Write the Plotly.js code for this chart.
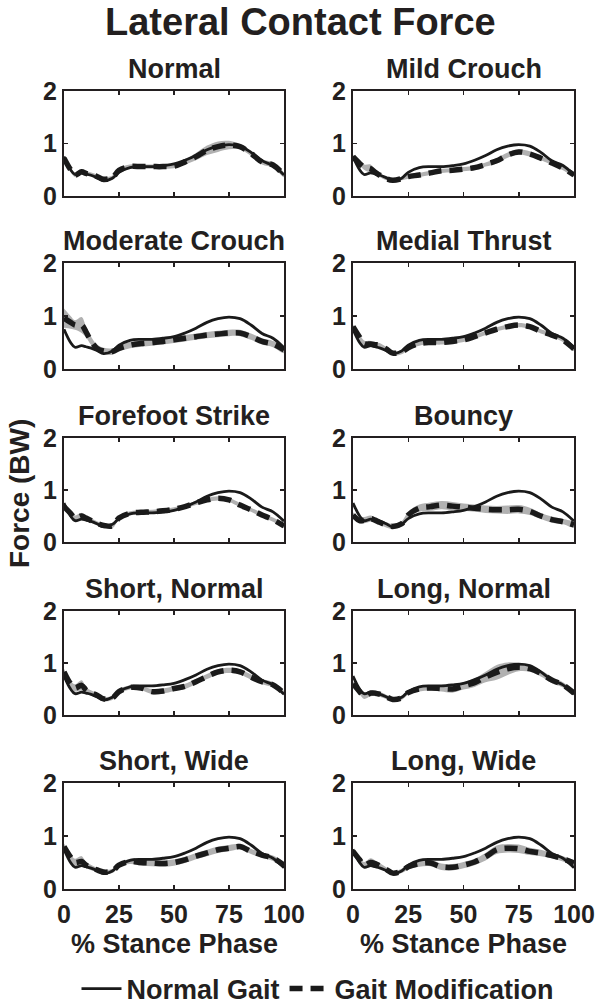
<!DOCTYPE html>
<html><head><meta charset="utf-8">
<script src="https://cdn.plot.ly/plotly-3.0.1.min.js"></script>
<style>html,body{margin:0;padding:0;background:#fff}#chart{width:600px;height:1008px}</style>
</head><body><div id="chart"></div>
<script>
// % stance phase sample points
const stance = [0,3,5,8,10,12,15,18,22,25,30,35,40,45,50,55,60,65,70,75,80,85,90,95,100];

const panelTitles = ["Normal","Mild Crouch","Moderate Crouch","Medial Thrust","Forefoot Strike","Bouncy","Short, Normal","Long, Normal","Short, Wide","Long, Wide"];

// Normal gait (baseline, solid line)
const normalGait = [0.75,0.50,0.41,0.44,0.42,0.40,0.35,0.29,0.34,0.45,0.54,0.56,0.56,0.58,0.61,0.68,0.77,0.88,0.95,0.98,0.95,0.83,0.67,0.58,0.40];

// Gait modification means
const modNormal    = [0.72,0.50,0.40,0.46,0.43,0.41,0.37,0.32,0.35,0.49,0.56,0.56,0.56,0.56,0.57,0.65,0.75,0.87,0.94,0.97,0.94,0.81,0.65,0.59,0.40];
const modMild      = [0.75,0.62,0.55,0.52,0.45,0.40,0.33,0.30,0.33,0.37,0.40,0.44,0.48,0.49,0.51,0.54,0.60,0.67,0.78,0.84,0.80,0.72,0.63,0.53,0.40];
const modModerate  = [0.96,0.88,0.83,0.83,0.70,0.55,0.39,0.34,0.33,0.39,0.45,0.48,0.50,0.52,0.55,0.58,0.61,0.64,0.66,0.68,0.68,0.61,0.52,0.47,0.36];
const modMedial    = [0.80,0.60,0.48,0.47,0.46,0.45,0.38,0.30,0.32,0.40,0.48,0.50,0.50,0.52,0.55,0.61,0.68,0.75,0.80,0.83,0.80,0.71,0.64,0.55,0.38];
const modForefoot  = [0.68,0.55,0.46,0.50,0.46,0.42,0.36,0.32,0.31,0.46,0.55,0.57,0.58,0.60,0.63,0.68,0.75,0.81,0.84,0.81,0.71,0.62,0.52,0.43,0.31];
const modBouncy    = [0.52,0.41,0.42,0.45,0.42,0.38,0.33,0.30,0.35,0.52,0.65,0.68,0.71,0.69,0.67,0.65,0.63,0.62,0.62,0.63,0.59,0.50,0.43,0.39,0.33];
const modShortNorm = [0.83,0.60,0.52,0.57,0.48,0.43,0.38,0.31,0.33,0.45,0.53,0.52,0.45,0.46,0.51,0.55,0.64,0.74,0.83,0.86,0.83,0.73,0.64,0.58,0.42];
const modLongNorm  = [0.60,0.45,0.36,0.42,0.42,0.40,0.35,0.30,0.33,0.43,0.50,0.52,0.51,0.50,0.56,0.62,0.73,0.82,0.89,0.92,0.89,0.80,0.67,0.58,0.42];
const modShortWide = [0.80,0.60,0.50,0.52,0.45,0.41,0.36,0.32,0.34,0.45,0.52,0.50,0.49,0.48,0.50,0.55,0.62,0.68,0.74,0.77,0.80,0.71,0.64,0.58,0.45];
const modLongWide  = [0.71,0.55,0.45,0.50,0.48,0.44,0.37,0.30,0.34,0.42,0.48,0.49,0.42,0.41,0.45,0.51,0.61,0.74,0.77,0.76,0.71,0.68,0.63,0.57,0.49];

// Gait modification standard deviations (grey band)
const sdNormal    = [0.04,0.04,0.04,0.05,0.04,0.04,0.04,0.04,0.04,0.04,0.04,0.04,0.04,0.04,0.04,0.05,0.07,0.09,0.10,0.08,0.05,0.05,0.05,0.05,0.04];
const sdMild      = [0.04,0.04,0.05,0.08,0.05,0.04,0.03,0.03,0.03,0.04,0.04,0.04,0.04,0.04,0.04,0.04,0.04,0.05,0.05,0.05,0.05,0.04,0.04,0.04,0.03];
const sdModerate  = [0.18,0.12,0.09,0.15,0.10,0.08,0.07,0.06,0.06,0.06,0.06,0.06,0.06,0.06,0.06,0.06,0.06,0.06,0.06,0.06,0.06,0.06,0.06,0.06,0.06];
const sdMedial    = [0.04,0.05,0.06,0.06,0.05,0.04,0.04,0.04,0.04,0.04,0.04,0.04,0.04,0.04,0.04,0.04,0.04,0.04,0.04,0.04,0.04,0.04,0.04,0.04,0.04];
const sdForefoot  = [0.04,0.04,0.05,0.06,0.05,0.04,0.04,0.04,0.04,0.04,0.04,0.04,0.04,0.04,0.04,0.04,0.04,0.04,0.04,0.04,0.04,0.04,0.04,0.04,0.04];
const sdBouncy    = [0.05,0.05,0.06,0.06,0.05,0.05,0.05,0.05,0.05,0.06,0.07,0.08,0.08,0.08,0.07,0.07,0.07,0.07,0.08,0.08,0.07,0.06,0.06,0.05,0.05];
const sdShortNorm = [0.06,0.06,0.07,0.10,0.06,0.05,0.04,0.04,0.04,0.04,0.04,0.04,0.05,0.05,0.05,0.05,0.05,0.05,0.05,0.05,0.05,0.05,0.05,0.05,0.04];
const sdLongNorm  = [0.05,0.05,0.05,0.06,0.05,0.05,0.04,0.04,0.04,0.04,0.05,0.05,0.06,0.07,0.07,0.08,0.10,0.14,0.12,0.08,0.06,0.06,0.06,0.05,0.04];
const sdShortWide = [0.06,0.06,0.07,0.10,0.06,0.05,0.04,0.04,0.04,0.04,0.05,0.06,0.06,0.06,0.06,0.06,0.06,0.06,0.06,0.06,0.05,0.05,0.05,0.05,0.04];
const sdLongWide  = [0.05,0.05,0.06,0.08,0.06,0.05,0.04,0.04,0.04,0.05,0.06,0.06,0.06,0.06,0.06,0.06,0.07,0.08,0.08,0.08,0.07,0.06,0.05,0.05,0.04];

const mods = [modNormal,modMild,modModerate,modMedial,modForefoot,modBouncy,modShortNorm,modLongNorm,modShortWide,modLongWide];
const sds  = [sdNormal,sdMild,sdModerate,sdMedial,sdForefoot,sdBouncy,sdShortNorm,sdLongNorm,sdShortWide,sdLongWide];

const xTicks = [0,25,50,75,100];
const yTicks = [0,1,2];

// layout geometry (pixels)
const W = 600, H = 1008;
const colPx = [[64,284],[353,574]];
const rowPx = [[91,196],[263,369],[438,542],[611,715],[783,889]];
const FONT = "Liberation Sans, Arial, sans-serif";
const INK = "#231f20";
const f = (size) => ({size: size, family: FONT, weight: "bold", color: INK});

const traces = [];
const layout = {
  width: W, height: H,
  margin: {l:0,r:0,t:0,b:0, autoexpand: false},
  paper_bgcolor: "#fff", plot_bgcolor: "#fff",
  font: f(24),
  showlegend: true,
  legend: {orientation: "h", x: 0.53, xanchor: "center", y: 1 - 989/H, yanchor: "middle",
           font: f(27), tracegroupgap: 0, itemwidth: 40},
  annotations: [],
};

layout.annotations.push({text: "Lateral Contact Force", xref: "paper", yref: "paper", x: 0.5, y: 1 - 22/H,
  xanchor: "center", yanchor: "middle", showarrow: false, font: f(38)});
layout.annotations.push({text: "Force (BW)", xref: "paper", yref: "paper", x: 19/W, y: 1 - 494/H, textangle: -90,
  xanchor: "center", yanchor: "middle", showarrow: false, font: f(28)});

for (let i = 0; i < 10; i++) {
  const r = Math.floor(i/2), c = i % 2;
  const n = i + 1;
  const xa = "x" + (n === 1 ? "" : n), ya = "y" + (n === 1 ? "" : n);
  const upper = mods[i].map((v,k) => v + sds[i][k]);
  const lower = mods[i].map((v,k) => v - sds[i][k]);
  traces.push({x: stance.concat(stance.slice().reverse()), y: upper.concat(lower.slice().reverse()),
    xaxis: xa, yaxis: ya, type: "scatter", mode: "lines", fill: "toself", fillcolor: "#b1b1b1",
    line: {width: 0, shape: "spline", color: "#b1b1b1"}, showlegend: false, hoverinfo: "skip"});
  traces.push({x: stance, y: normalGait, xaxis: xa, yaxis: ya, type: "scatter", mode: "lines",
    name: "Normal Gait", legendgroup: "n", showlegend: i === 0,
    line: {color: "#1a1a1a", width: 2.8, shape: "spline"}});
  traces.push({x: stance, y: mods[i], xaxis: xa, yaxis: ya, type: "scatter", mode: "lines",
    name: "Gait Modification", legendgroup: "m", showlegend: i === 0,
    line: {color: "#1a1a1a", width: 5.5, shape: "spline", dash: "13px,8px"}});

  const axBase = {showline: true, linecolor: INK, linewidth: 2, mirror: "ticks", ticks: "inside",
    ticklen: 4, tickwidth: 1.5, tickcolor: INK, showgrid: false, zeroline: false, fixedrange: true};
  layout["xaxis" + (n === 1 ? "" : n)] = Object.assign({}, axBase, {
    domain: [colPx[c][0]/W, colPx[c][1]/W], range: [0,100], tickvals: xTicks, anchor: ya,
    showticklabels: r === 4, tickfont: f(25), ticklabelstandoff: 2
  });
  layout["yaxis" + (n === 1 ? "" : n)] = Object.assign({}, axBase, {
    domain: [1 - rowPx[r][1]/H, 1 - rowPx[r][0]/H], range: [0,2], tickvals: yTicks, anchor: xa,
    tickfont: f(25)
  });
  layout.annotations.push({text: panelTitles[i], xref: "paper", yref: "paper",
    x: (colPx[c][0] + colPx[c][1]) / 2 / W, y: 1 - (rowPx[r][0] - 5)/H, xanchor: "center", yanchor: "bottom",
    showarrow: false, font: f(27)});
  if (r === 4) {
    layout.annotations.push({text: "% Stance Phase", xref: "paper", yref: "paper",
      x: (colPx[c][0] + colPx[c][1]) / 2 / W, y: 1 - 944/H, xanchor: "center", yanchor: "middle",
      showarrow: false, font: f(27)});
  }
}

Plotly.newPlot("chart", traces, layout, {displayModeBar: false, staticPlot: true});
</script>
</body></html>
